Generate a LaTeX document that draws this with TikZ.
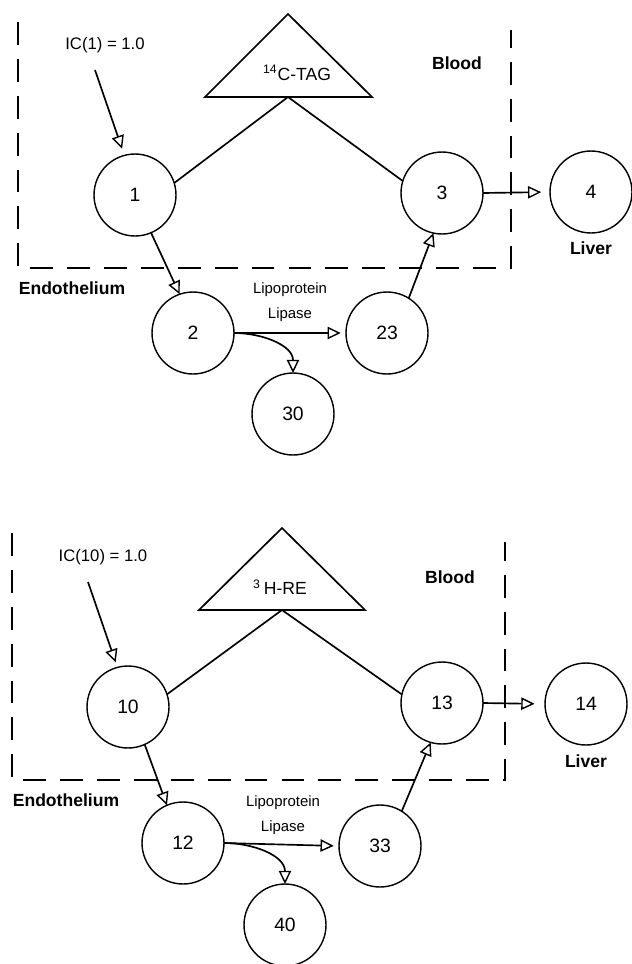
\documentclass[tikz,border=0pt]{standalone}
\usepackage{fontspec}
\setmainfont{Liberation Sans}
\usetikzlibrary{arrows.meta}
\begin{document}
\begin{tikzpicture}[x=0.02cm,y=-0.02cm,inner sep=0pt,outer sep=0pt,line width=0.95pt,
comp/.style={draw,circle,line width=0.8pt,minimum size=1.64cm,font=\fontsize{11}{13}\selectfont},
flow/.style={-{Triangle[open,length=7.5pt,width=7pt,line width=0.8pt]}},
region/.style={dash pattern=on 13pt off 8pt},
note/.style={font=\fontsize{9.5}{11}\selectfont},
place/.style={font=\bfseries\fontsize{10}{12}\selectfont},
enzyme/.style={font=\fontsize{8.5}{14}\selectfont,align=center}]
\useasboundingbox (0,0) rectangle (632,964);

% upper model: 14C-TAG
\draw[region] (18,22) -- (18,268) -- (511,268) -- (511,30);
\coordinate (tagbase) at (288,97);
\draw (288,14) -- (205,97) -- (372,97) -- cycle;
\draw (297,73) node (tag) {\textsuperscript{14}C-TAG};

\draw (135,195) node[comp] (c1) {1};
\draw (442,193) node[comp] (c3) {3};
\draw (591,192) node[comp] (c4) {4};
\draw (193,333) node[comp] (c2) {2};
\draw (387,333) node[comp] (c23) {23};
\draw (293,414) node[comp] (c30) {30};

\draw (105,45) node[note] (ic1) {IC(1) = 1.0};
\draw (457,63) node[place] (blood1) {Blood};
\draw (591,248) node[place] (liver1) {Liver};
\draw (72,288) node[place] (endo1) {Endothelium};
\draw (290,302) node[enzyme] (lpl1) {Lipoprotein\\Lipase};

\coordinate (s1) at (95,70);
\draw[flow,shorten >=4pt] (s1) -- (c1.105);
\draw (c1.17) -- (tagbase) -- (c3.163);
\draw[flow,shorten >=5pt] (c3.east) -- (c4.west);
\draw[flow] (c1.-67) -- (c2.109);
\draw[flow,shorten >=3pt] (c2.east) -- (c23.west);
\draw[flow] (c2.east) to[out=0,in=90] (c30.north);
\draw[flow] (c23.58) -- (c3.-102);

% lower model: 3H-RE
\draw[region] (12,533) -- (12,780) -- (505,780) -- (505,542);
\coordinate (rebase) at (282,610);
\draw (282,528) -- (199,610) -- (365,610) -- cycle;
\draw (280,587) node (re) {\textsuperscript{3}\,H-RE};

\draw (128,707) node[comp] (c10) {10};
\draw (442,703) node[comp] (c13) {13};
\draw (586,704) node[comp] (c14) {14};
\draw (183,843) node[comp] (c12) {12};
\draw (380,846) node[comp] (c33) {33};
\draw (285,925) node[comp] (c40) {40};

\draw (103,557) node[note] (ic10) {IC(10) = 1.0};
\draw (450,577) node[place] (blood2) {Blood};
\draw (586,761) node[place] (liver2) {Liver};
\draw (66,800) node[place] (endo2) {Endothelium};
\draw (283,815) node[enzyme] (lpl2) {Lipoprotein\\Lipase};

\coordinate (s10) at (88,582);
\draw[flow,shorten >=3pt] (s10) -- (c10.105);
\draw (c10.18) -- (rebase) -- (c13.168);
\draw[flow,shorten >=6pt] (c13.east) -- (c14.west);
\draw[flow] (c10.-66) -- (c12.113);
\draw[flow,shorten >=3pt] (c12.east) -- (c33.west);
\draw[flow] (c12.east) to[out=0,in=90] (c40.north);
\draw[flow] (c33.58) -- (c13.-106);
\end{tikzpicture}
\end{document}
